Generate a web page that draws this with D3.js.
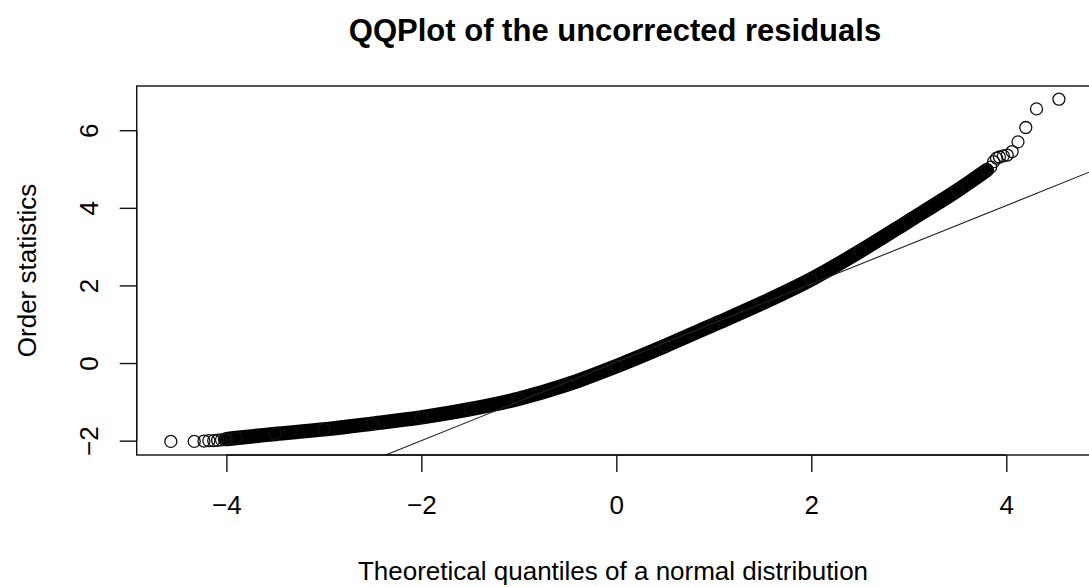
<!DOCTYPE html>
<html>
<head>
<meta charset="utf-8">
<script src="https://cdn.jsdelivr.net/npm/d3@7"></script>
<style>
  html, body { margin: 0; padding: 0; background: #fff; }
  svg { display: block; font-family: "Liberation Sans", Arial, Helvetica, sans-serif; }
</style>
</head>
<body>
<svg id="chart" width="1089" height="587"></svg>
<script>
// ---- data ----
// dense central band of points (theoretical quantile, order statistic)
const bandX = [-4.00, -3.90, -3.50, -3.00, -2.50, -2.00, -1.50, -1.00, -0.50, 0.00, 0.50, 1.00, 1.50, 2.00, 2.50, 3.00, 3.50, 3.80];
const bandY = [-1.96, -1.93, -1.83, -1.71, -1.56, -1.40, -1.19, -0.92, -0.55, -0.08, 0.44, 0.99, 1.55, 2.16, 2.88, 3.66, 4.45, 4.97];
// sparse lower tail
const lowTailX = [-4.57, -4.33, -4.23, -4.18, -4.13, -4.09, -4.05, -4.02];
const lowTailY = [-2.02, -2.02, -2.01, -2.00, -2.00, -1.99, -1.98, -1.97];
// sparse upper tail
const highTailX = [3.84, 3.87, 3.90, 3.93, 3.97, 4.01, 4.06, 4.12, 4.20, 4.31, 4.54];
const highTailY = [5.05, 5.19, 5.28, 5.31, 5.34, 5.36, 5.45, 5.70, 6.07, 6.55, 6.80];
// reference line (qqline)
const lineIntercept = 0.02;
const lineSlope = 1.01;
// ticks
const xTicks = [-4, -2, 0, 2, 4];
const yTicks = [-2, 0, 2, 4, 6];
const titleText = "QQPlot of the uncorrected residuals";
const xLabel = "Theoretical quantiles of a normal distribution";
const yLabel = "Order statistics";

// ---- drawing ----
(function () {
const svg = d3.select("#chart");
const pLeft = 136.7, pRight = 1095, pTop = 86, pBottom = 455;
const x = d3.scaleLinear().domain([-4.92, 4.91]).range([pLeft, pRight]);
const y = d3.scaleLinear().domain([-2.37, 7.14]).range([pBottom, pTop]);

svg.append("defs").append("clipPath").attr("id", "plotclip")
  .append("rect").attr("x", pLeft).attr("y", pTop).attr("width", pRight - pLeft).attr("height", pBottom - pTop);

const plot = svg.append("g").attr("clip-path", "url(#plotclip)");

// band of overlapping points
const band = bandX.map((v, i) => [v, bandY[i]]);
plot.append("path")
  .datum(band)
  .attr("d", d3.line().x(d => x(d[0])).y(d => y(d[1])).curve(d3.curveCatmullRom))
  .attr("fill", "none")
  .attr("stroke", "#000")
  .attr("stroke-width", 14.5)
  .attr("stroke-linecap", "round")
  .attr("stroke-linejoin", "round");

const pts = band
  .concat(lowTailX.map((v, i) => [v, lowTailY[i]]))
  .concat(highTailX.map((v, i) => [v, highTailY[i]]));
plot.selectAll("circle.pt").data(pts).enter().append("circle")
  .attr("class", "pt")
  .attr("cx", d => x(d[0]))
  .attr("cy", d => y(d[1]))
  .attr("r", 6)
  .attr("fill", "none")
  .attr("stroke", "#111")
  .attr("stroke-width", 1.3);

// qqline
const xd = x.domain();
plot.append("line")
  .attr("x1", x(xd[0])).attr("y1", y(lineIntercept + lineSlope * xd[0]))
  .attr("x2", x(xd[1])).attr("y2", y(lineIntercept + lineSlope * xd[1]))
  .attr("stroke", "#222").attr("stroke-width", 1.1);

// box
svg.append("rect")
  .attr("x", pLeft).attr("y", pTop).attr("width", pRight - pLeft).attr("height", pBottom - pTop)
  .attr("fill", "none").attr("stroke", "#111").attr("stroke-width", 1.4);

const fmt = d => String(d).replace("-", "\u2212");

// x axis
const xAxis = d3.axisBottom(x).tickValues(xTicks).tickSize(17).tickFormat(fmt);
const gx = svg.append("g").attr("transform", `translate(0,${pBottom})`).call(xAxis);
gx.select(".domain").attr("d", `M${x(xTicks[0])},0H${x(xTicks[xTicks.length - 1])}`).attr("stroke", "#111").attr("stroke-width", 1.4);
gx.selectAll(".tick line").attr("stroke", "#111").attr("stroke-width", 1.4);
gx.selectAll(".tick text")
  .attr("font-size", 26).attr("fill", "#000")
  .attr("font-family", "Liberation Sans, Arial, sans-serif")
  .attr("y", 59).attr("dy", null);

// y axis
const yAxis = d3.axisLeft(y).tickValues(yTicks).tickSize(17).tickFormat(fmt);
const gy = svg.append("g").attr("transform", `translate(${pLeft},0)`).call(yAxis);
gy.select(".domain").attr("d", `M0,${y(yTicks[0])}V${y(yTicks[yTicks.length - 1])}`).attr("stroke", "#111").attr("stroke-width", 1.4);
gy.selectAll(".tick line").attr("stroke", "#111").attr("stroke-width", 1.4);
gy.selectAll(".tick text")
  .attr("font-size", 26).attr("fill", "#000")
  .attr("font-family", "Liberation Sans, Arial, sans-serif")
  .attr("x", null).attr("dy", null)
  .attr("text-anchor", "middle")
  .attr("transform", "translate(-38.5,0) rotate(-90)");

// title
svg.append("text")
  .attr("x", 615).attr("y", 41)
  .attr("text-anchor", "middle")
  .attr("font-size", 31).attr("font-weight", "bold").attr("fill", "#000")
  .text(titleText);

// x label
svg.append("text")
  .attr("x", 613).attr("y", 580)
  .attr("text-anchor", "middle")
  .attr("font-size", 26).attr("fill", "#000")
  .text(xLabel);

// y label
svg.append("text")
  .attr("transform", `translate(36,${(pTop + pBottom) / 2}) rotate(-90)`)
  .attr("text-anchor", "middle")
  .attr("font-size", 26).attr("fill", "#000")
  .text(yLabel);
})();
</script>
</body>
</html>
